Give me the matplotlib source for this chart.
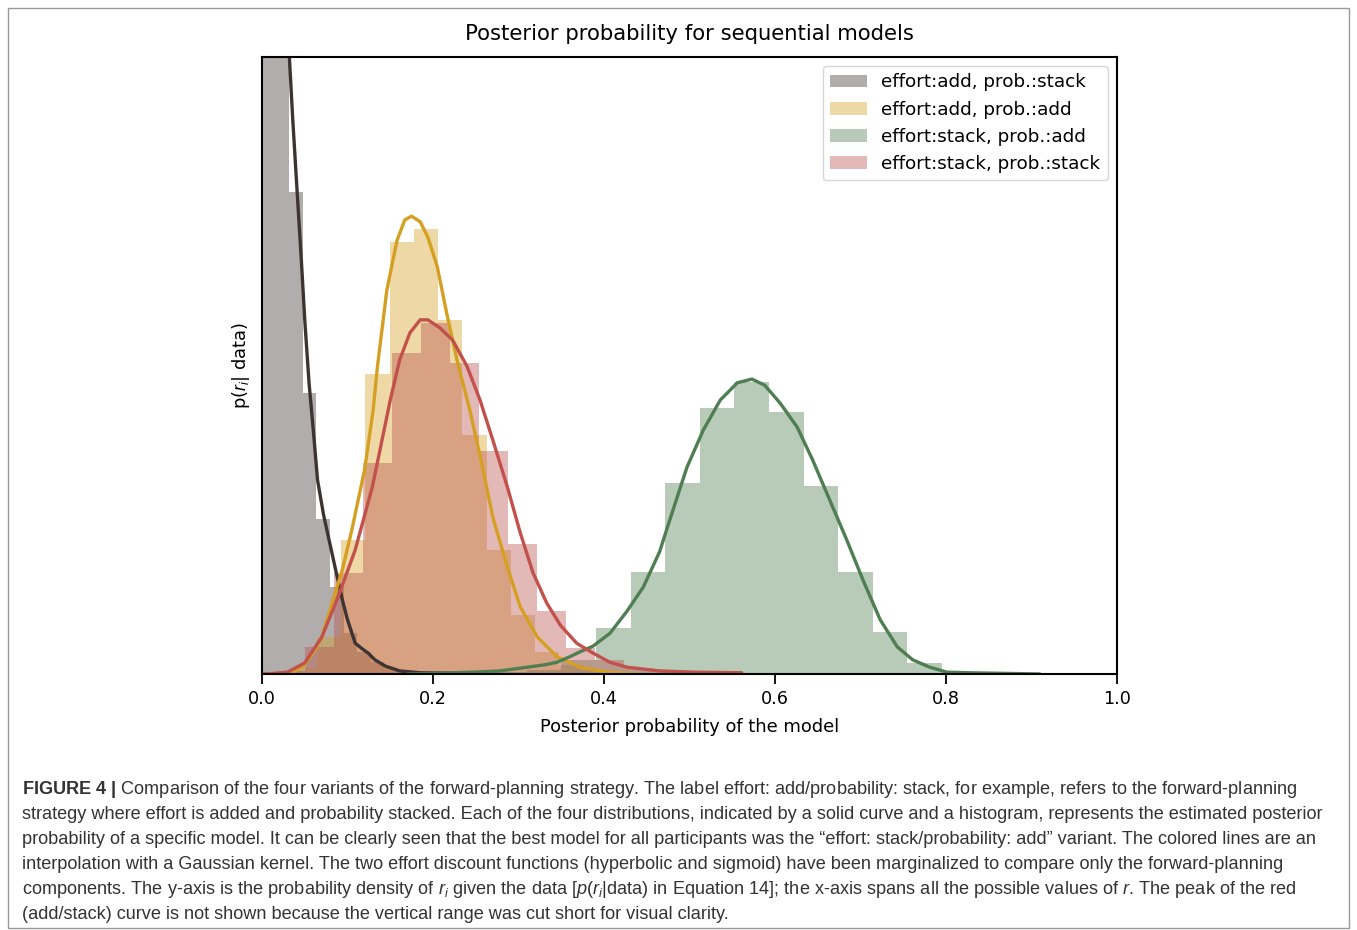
import numpy as np
import matplotlib
matplotlib.use('Agg')
import matplotlib.pyplot as plt
from matplotlib.patches import Rectangle

# ---- histograms: first edge, bin width, densities
gray_start, gray_width = 0.0, 0.0159
gray_hist = [26.0, 19.0, 7.82, 4.55, 2.51, 1.41, 0.66, 0.36, 0.20, 0.10, 0.06, 0.03, 0.02, 0.02, 0.01]

yellow_start, yellow_width = 0.0357, 0.02836
yellow_hist = [0.10, 0.60, 2.17, 4.86, 7.00, 7.21, 5.74, 3.87, 2.01, 0.96, 0.36, 0.15, 0.06, 0.03]

green_start, green_width = 0.2692, 0.04047
green_hist = [0.03, 0.06, 0.23, 0.75, 1.65, 3.10, 4.31, 4.73, 4.25, 3.05, 1.65, 0.68, 0.18, 0.03, 0.01, 0.01]

red_start, red_width = 0.0164, 0.0339
red_hist = [0.05, 0.44, 1.64, 3.42, 5.20, 5.69, 5.04, 3.61, 2.11, 1.02, 0.42, 0.23, 0.10, 0.05, 0.03, 0.02]

# ---- kernel density curves (x, density)
gray_x = [0.0, 0.005, 0.015, 0.025, 0.032, 0.036, 0.041, 0.046, 0.050, 0.055, 0.060, 0.065, 0.072,
          0.078, 0.088, 0.094, 0.100, 0.109, 0.117, 0.124, 0.132, 0.144, 0.161, 0.185, 0.220, 0.250]
gray_y = [22.0, 24.0, 20.0, 13.5, 10.0, 8.98, 7.84, 6.71, 5.74, 4.72, 3.95, 3.14, 2.58,
          2.20, 1.57, 1.20, 0.88, 0.50, 0.41, 0.34, 0.23, 0.13, 0.05, 0.02, 0.015, 0.015]

yellow_x = [0.0, 0.035, 0.050, 0.062, 0.070, 0.082, 0.094, 0.105, 0.120, 0.130, 0.135, 0.146, 0.158,
            0.167, 0.175, 0.185, 0.194, 0.205, 0.216, 0.228, 0.243, 0.258, 0.270, 0.287, 0.302,
            0.322, 0.345, 0.372, 0.404, 0.440]
yellow_y = [0.0, 0.02, 0.15, 0.39, 0.60, 1.15, 1.69, 2.33, 3.31, 4.28, 4.98, 6.22, 7.03,
            7.36, 7.42, 7.33, 7.08, 6.60, 5.85, 5.09, 4.28, 3.35, 2.54, 1.73, 1.09,
            0.60, 0.28, 0.11, 0.03, 0.0]

green_x = [0.170, 0.247, 0.278, 0.305, 0.331, 0.345, 0.360, 0.372, 0.387, 0.407, 0.427, 0.446, 0.465,
           0.477, 0.497, 0.516, 0.536, 0.556, 0.573, 0.588, 0.606, 0.626, 0.644, 0.664, 0.684,
           0.703, 0.723, 0.743, 0.761, 0.781, 0.801, 0.828, 0.910]
green_y = [0.0, 0.03, 0.05, 0.10, 0.15, 0.19, 0.28, 0.36, 0.45, 0.66, 1.02, 1.41, 1.98,
           2.50, 3.35, 3.95, 4.44, 4.72, 4.78, 4.68, 4.39, 4.00, 3.47, 2.82, 2.17,
           1.52, 0.88, 0.44, 0.23, 0.11, 0.03, 0.02, 0.0]

red_x = [0.0, 0.015, 0.030, 0.050, 0.070, 0.089, 0.109, 0.129, 0.138, 0.150, 0.161, 0.173, 0.185,
         0.194, 0.208, 0.223, 0.240, 0.255, 0.270, 0.287, 0.302, 0.317, 0.333, 0.349, 0.368,
         0.387, 0.407, 0.427, 0.465, 0.504, 0.561]
red_y = [0.0, 0.01, 0.03, 0.18, 0.60, 1.25, 2.01, 3.03, 3.63, 4.44, 5.09, 5.53, 5.74,
         5.74, 5.61, 5.41, 4.98, 4.44, 3.79, 3.03, 2.29, 1.64, 1.15, 0.79, 0.50,
         0.34, 0.19, 0.11, 0.05, 0.03, 0.02]

labels = ['effort:add, prob.:stack', 'effort:add, prob.:add',
          'effort:stack, prob.:add', 'effort:stack, prob.:stack']
line_colors = ['#3d3431', '#d5a021', '#4f7e52', '#c2504b']
hist_colors = ['#3d3431', '#d5a021', '#4f7e52', '#b8504c']

caption_lines = [
    r'$\mathbf{FIGURE\ 4\ |}$ Comparison of the four variants of the forward-planning strategy. The label effort: add/probability: stack, for example, refers to the forward-planning',
    'strategy where effort is added and probability stacked. Each of the four distributions, indicated by a solid curve and a histogram, represents the estimated posterior',
    'probability of a specific model. It can be clearly seen that the best model for all participants was the \u201ceffort: stack/probability: add\u201d variant. The colored lines are an',
    'interpolation with a Gaussian kernel. The two effort discount functions (hyperbolic and sigmoid) have been marginalized to compare only the forward-planning',
    r'components. The y-axis is the probability density of $r_i$ given the data [$p$($r_i$|data) in Equation 14]; the x-axis spans all the possible values of $r$. The peak of the red',
    '(add/stack) curve is not shown because the vertical range was cut short for visual clarity.',
]

plt.rcParams['mathtext.fontset'] = 'custom'
plt.rcParams['mathtext.rm'] = 'Liberation Sans'
plt.rcParams['mathtext.it'] = 'Liberation Sans:italic'
plt.rcParams['mathtext.bf'] = 'Liberation Sans:bold'

W, H = 1357, 930
fig = plt.figure(figsize=(W / 100, H / 100), dpi=100)
ax = fig.add_axes([262 / W, 1 - 674 / H, 855 / W, 617 / H])

hists = [(gray_start, gray_width, gray_hist), (yellow_start, yellow_width, yellow_hist),
         (green_start, green_width, green_hist), (red_start, red_width, red_hist)]
curves = [(gray_x, gray_y), (yellow_x, yellow_y), (green_x, green_y), (red_x, red_y)]

for (start, width, h), (cx, cy), lab, lc, hc in zip(hists, curves, labels, line_colors, hist_colors):
    edges = start + width * np.arange(len(h) + 1)
    ax.stairs(h, edges, fill=True, color=hc, alpha=0.4, linewidth=0, label=lab)
    ax.plot(cx, cy, color=lc, lw=2.4, solid_capstyle='round', solid_joinstyle='round')

ax.set_xlim(0, 1)
ax.set_ylim(0, 10)
ax.set_yticks([])
ax.set_xticks([0.0, 0.2, 0.4, 0.6, 0.8, 1.0])
ax.tick_params(axis='x', length=7, width=1.3, pad=4.5, labelsize=12.7)
for s in ax.spines.values():
    s.set_linewidth(1.5)

ax.set_xlabel('Posterior probability of the model', fontsize=12.9, labelpad=7.5)
ax.set_ylabel('p($r_i$| data)', fontsize=12.9, labelpad=7)
ax.set_title('Posterior probability for sequential models', fontsize=15.2, pad=12)
ax.legend(loc='upper right', fontsize=13.2, edgecolor='#cccccc')

# caption below the chart
cap_family = ['Liberation Sans Narrow', 'Liberation Sans', 'DejaVu Sans']
renderer = fig.canvas.get_renderer()
probe = fig.text(0, 0, caption_lines[1], fontsize=13, family=cap_family)
w = probe.get_window_extent(renderer).width
probe.remove()
cap_size = 13 * 1301 / w
for i, line in enumerate(caption_lines):
    fig.text(22 / W, 1 - (794 + 25 * i) / H, line, fontsize=cap_size, family=cap_family,
             color='#333333', va='baseline', ha='left')

fig.patches.append(Rectangle((8 / W, 1 - 928 / H), 1341 / W, 920 / H, transform=fig.transFigure,
                             fill=False, edgecolor='#999999', linewidth=1.0))

fig.savefig('out.png', dpi=100)
